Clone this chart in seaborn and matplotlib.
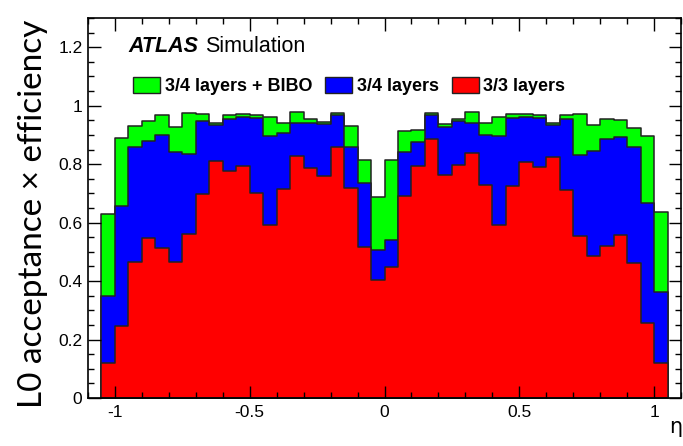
import numpy as np
import pandas as pd
import matplotlib
matplotlib.use("Agg")
import matplotlib.pyplot as plt
import seaborn as sns
from matplotlib.patches import Patch
from matplotlib.ticker import MultipleLocator, FormatStrFormatter

# ---- data -------------------------------------------------------------
eta_edges = [round(v, 3) for v in np.linspace(-1.05, 1.05, 43)]

bibo = [0.629, 0.890, 0.929, 0.946, 0.967, 0.926, 0.975, 0.971, 0.942, 0.969,
        0.973, 0.969, 0.961, 0.940, 0.978, 0.953, 0.944, 0.975, 0.930, 0.813,
        0.686, 0.814, 0.913, 0.918, 0.975, 0.938, 0.955, 0.978, 0.942, 0.963,
        0.970, 0.970, 0.967, 0.940, 0.967, 0.973, 0.935, 0.953, 0.950, 0.923,
        0.895, 0.637]
three_of_four = [0.350, 0.657, 0.860, 0.880, 0.901, 0.841, 0.834, 0.946, 0.935, 0.955,
                 0.960, 0.957, 0.895, 0.906, 0.942, 0.942, 0.937, 0.969, 0.857, 0.734,
                 0.506, 0.541, 0.843, 0.875, 0.969, 0.927, 0.946, 0.942, 0.900, 0.895,
                 0.959, 0.962, 0.959, 0.935, 0.955, 0.833, 0.844, 0.887, 0.892, 0.858,
                 0.667, 0.363]
three_of_three = [0.119, 0.245, 0.465, 0.546, 0.514, 0.466, 0.560, 0.698, 0.812, 0.778,
                  0.795, 0.703, 0.591, 0.715, 0.829, 0.786, 0.761, 0.858, 0.717, 0.517,
                  0.402, 0.448, 0.692, 0.793, 0.887, 0.764, 0.797, 0.838, 0.730, 0.591,
                  0.724, 0.806, 0.789, 0.824, 0.713, 0.554, 0.486, 0.520, 0.558, 0.463,
                  0.257, 0.119]

series_labels = ["3/4 layers + BIBO", "3/4 layers", "3/3 layers"]
series_colors = ["#00ff00", "#0000ff", "#ff0000"]
y_ticks = [0, 0.2, 0.4, 0.6, 0.8, 1.0, 1.2]
x_ticks = [-1, -0.5, 0, 0.5, 1]

# ---- figure -----------------------------------------------------------
plt.rcParams["font.family"] = ["Liberation Sans", "DejaVu Sans"]
plt.rcParams["axes.unicode_minus"] = False

fig = plt.figure(figsize=(6.83, 4.46), dpi=100)
ax = fig.add_axes([88 / 683, 48 / 446, 593 / 683, 380 / 446])

centers = [(a + b) / 2 for a, b in zip(eta_edges[:-1], eta_edges[1:])]
for vals, col in zip([bibo, three_of_four, three_of_three], series_colors):
    df = pd.DataFrame({"eta": centers, "w": vals})
    sns.histplot(data=df, x="eta", weights="w", bins=eta_edges, element="step",
                 fill=True, color=col, alpha=1, edgecolor="#222222",
                 linewidth=1.1, ax=ax)

ax.set_xlim(-1.1, 1.1)
ax.set_ylim(0, 1.3)
ax.set_xlabel("")
ax.set_ylabel("")
ax.set_xticks(x_ticks)
ax.set_yticks(y_ticks)
ax.xaxis.set_major_formatter(FormatStrFormatter("%g"))
ax.yaxis.set_major_formatter(FormatStrFormatter("%g"))
ax.xaxis.set_minor_locator(MultipleLocator(0.1))
ax.yaxis.set_minor_locator(MultipleLocator(0.05))
ax.tick_params(which="both", direction="in", top=True, right=True, width=1.0,
               labelsize=12.5, colors="black")
ax.tick_params(which="major", length=9)
ax.tick_params(which="minor", length=4.5)
ax.tick_params(axis="x", pad=5)
ax.tick_params(axis="y", pad=4)
for s in ax.spines.values():
    s.set_linewidth(1.2)
    s.set_color("black")

# ATLAS label
fig.text(128 / 683, 1 - 52 / 446, "ATLAS", fontsize=15.5, fontweight="bold",
         fontstyle="italic", va="baseline", ha="left")
fig.text(205 / 683, 1 - 52 / 446, "Simulation", fontsize=15.5,
         va="baseline", ha="left")

# legend
handles = [Patch(facecolor=c, edgecolor="#222222", linewidth=1.0, label=l)
           for c, l in zip(series_colors, series_labels)]
leg = ax.legend(handles=handles, ncol=3, loc="center left",
                bbox_to_anchor=((133 - 88) / 593, (398 - 86) / 380),
                frameon=False, borderpad=0, borderaxespad=0,
                handlelength=1.5, handleheight=1.0, handletextpad=0.25,
                columnspacing=0.72, prop={"weight": "bold", "size": 13})

# axis labels
fig.text(33 / 683, 1 - 214 / 446, "L0 acceptance \u00d7 efficiency",
         rotation=90, fontsize=24, family=["Lato", "DejaVu Sans"],
         ha="center", va="center")
fig.text(676 / 683, 1 - 433 / 446, "\u03b7", fontsize=15, ha="center",
         va="baseline", family=["DejaVu Sans"])

fig.savefig("out.png", dpi=100)
